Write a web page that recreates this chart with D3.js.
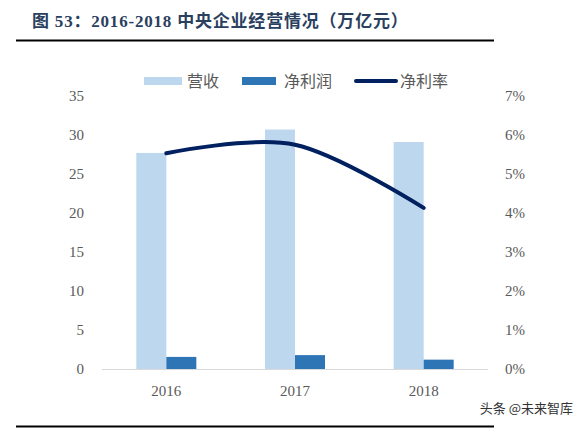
<!DOCTYPE html>
<html lang="zh">
  <head>
    <meta charset="utf-8">
    <title>中央企业经营情况</title>
    <script type="text/javascript" src="https://cdn.jsdelivr.net/npm/d3@7"></script>
    <style type="text/css">
      body { margin: 0; background: #fff; }
      svg { display: block; }
    </style>
  </head>
  <body>
    <script type="text/javascript">

      // Data
      var years = ["2016", "2017", "2018"];
      var revenue = [27.7, 30.7, 29.1];     // 营收, 万亿元
      var profit = [1.55, 1.78, 1.2];       // 净利润, 万亿元
      var margin = [0.0553, 0.0575, 0.0413]; // 净利率
      var leftTicks = [0, 5, 10, 15, 20, 25, 30, 35];
      var rightTicks = [0, 0.01, 0.02, 0.03, 0.04, 0.05, 0.06, 0.07];

      var w = 582;
      var h = 428;
      // plot area (note: "top" is a reserved window global, so use other names)
      var plotLeft = 102, plotRight = 488, plotTop = 96, plotBottom = 369;

      var tickFont = "'Liberation Serif', 'Times New Roman', serif";
      var cnFont = "'Noto Sans CJK SC', 'Noto Sans', sans-serif";

      var svg = d3.select("body")
        .append("svg")
        .attr("width", w)
        .attr("height", h);

      // Title + rules
      svg.append("text")
        .attr("x", 32)
        .attr("y", 27)
        .attr("font-family", "'Liberation Serif', 'Noto Sans CJK SC', serif")
        .attr("font-weight", "bold")
        .attr("font-size", "17px")
        .attr("letter-spacing", "0.8px")
        .attr("fill", "#2B3F5F")
        .text("图 53：2016-2018 中央企业经营情况（万亿元）");

      svg.append("line")
        .attr("x1", 16).attr("x2", 494)
        .attr("y1", 40.5).attr("y2", 40.5)
        .attr("stroke", "#000").attr("stroke-width", 2);

      svg.append("line")
        .attr("x1", 16).attr("x2", 494)
        .attr("y1", 426.5).attr("y2", 426.5)
        .attr("stroke", "#000").attr("stroke-width", 2);

      // Scales
      var xScale = d3.scaleBand()
        .domain(years)
        .range([plotLeft, plotRight]);

      var yLeft = d3.scaleLinear()
        .domain([0, 35])
        .range([plotBottom, plotTop]);

      var yRight = d3.scaleLinear()
        .domain([0, 0.07])
        .range([plotBottom, plotTop]);

      var barW = 30;

      // Axes (labels only)
      var leftAxis = d3.axisLeft(yLeft)
        .tickValues(leftTicks)
        .tickSize(0)
        .tickPadding(0);

      var gl = svg.append("g")
        .attr("transform", "translate(84,0)")
        .call(leftAxis);

      var rightAxis = d3.axisRight(yRight)
        .tickValues(rightTicks)
        .tickFormat(d3.format(".0%"))
        .tickSize(0)
        .tickPadding(0);

      var gr = svg.append("g")
        .attr("transform", "translate(505,0)")
        .call(rightAxis);

      var xAxis = d3.axisBottom(xScale)
        .tickSize(0)
        .tickPadding(16);

      var gx = svg.append("g")
        .attr("transform", "translate(0," + plotBottom + ")")
        .call(xAxis);

      [gl, gr, gx].forEach(function(g) {
        g.select(".domain").remove();
        g.selectAll("text")
          .attr("font-family", tickFont)
          .attr("font-size", "15px")
          .attr("fill", "#595959");
      });

      // Bars
      svg.selectAll("rect.rev")
        .data(revenue)
        .enter()
        .append("rect")
        .attr("class", "rev")
        .attr("x", function(d, i) { return xScale(years[i]) + xScale.bandwidth() / 2 - barW; })
        .attr("y", function(d) { return yLeft(d); })
        .attr("width", barW)
        .attr("height", function(d) { return plotBottom - yLeft(d); })
        .attr("fill", "#BDD7EE");

      svg.selectAll("rect.pro")
        .data(profit)
        .enter()
        .append("rect")
        .attr("class", "pro")
        .attr("x", function(d, i) { return xScale(years[i]) + xScale.bandwidth() / 2; })
        .attr("y", function(d) { return yLeft(d); })
        .attr("width", barW)
        .attr("height", function(d) { return plotBottom - yLeft(d); })
        .attr("fill", "#2E75B6");

      // Baseline
      svg.append("line")
        .attr("x1", plotLeft).attr("x2", plotRight)
        .attr("y1", plotBottom + 0.5).attr("y2", plotBottom + 0.5)
        .attr("stroke", "#D9D9D9").attr("stroke-width", 1);

      // Margin line (smoothed)
      var line = d3.line()
        .x(function(d, i) { return xScale(years[i]) + xScale.bandwidth() / 2; })
        .y(function(d) { return yRight(d); })
        .curve(d3.curveCatmullRom.alpha(0));

      svg.append("path")
        .datum(margin)
        .attr("d", line)
        .attr("fill", "none")
        .attr("stroke", "#002060")
        .attr("stroke-width", 4)
        .attr("stroke-linecap", "round");

      // Legend
      var legend = svg.append("g").attr("font-family", cnFont).attr("font-size", "16px").attr("fill", "#595959");

      legend.append("rect").attr("x", 144).attr("y", 77).attr("width", 38).attr("height", 8).attr("fill", "#BDD7EE");
      legend.append("text").attr("x", 187).attr("y", 87).text("营收");

      legend.append("rect").attr("x", 242).attr("y", 77).attr("width", 34).attr("height", 8).attr("fill", "#2E75B6");
      legend.append("text").attr("x", 284).attr("y", 87).text("净利润");

      legend.append("line").attr("x1", 356).attr("x2", 396).attr("y1", 81).attr("y2", 81)
        .attr("stroke", "#002060").attr("stroke-width", 4).attr("stroke-linecap", "round");
      legend.append("text").attr("x", 400).attr("y", 87).text("净利率");

      // Watermark
      svg.append("text")
        .attr("x", 573)
        .attr("y", 413)
        .attr("text-anchor", "end")
        .attr("font-family", cnFont)
        .attr("font-size", "13px")
        .attr("fill", "#333")
        .text("头条 @未来智库");

    </script>
  </body>
</html>
